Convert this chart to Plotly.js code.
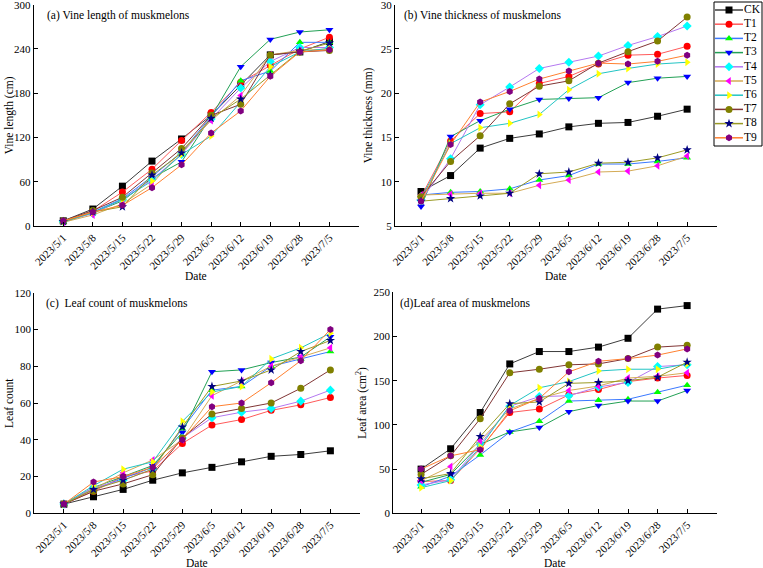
<!DOCTYPE html>
<html>
<head>
<meta charset="utf-8">
<script src="https://cdn.plot.ly/plotly-3.0.1.min.js"></script>
<style>html,body{margin:0;padding:0;background:#fff;}</style>
</head>
<body>
<div id="chart" style="width:763px;height:568px;"></div>
<script>
// Sampling dates (x categories)
const dates = ['2023/5/1','2023/5/8','2023/5/15','2023/5/22','2023/5/29','2023/6/5','2023/6/12','2023/6/19','2023/6/28','2023/7/5'];

// Treatments
const seriesNames = ['CK','T1','T2','T3','T4','T5','T6','T7','T8','T9'];
const lineColors   = ['#3c3c3c','#ff5a5a','#3a78ff','#22a055','#b478f0','#d4aa55','#22c4c4','#803535','#9a9a25','#ff8030'];
const markerColors = ['#000000','#ff0000','#00ff00','#0000ff','#00ffff','#ff00ff','#ffff00','#808000','#000080','#800080'];
const markerSymbols = ['square','circle','triangle-up','triangle-down','diamond','triangle-left','triangle-right','circle','star','hexagon'];
const markerSizes = [7,7,7,7,7,7,7,7,7,7];

// (a) Vine length, cm
const vineLength = [
  [7, 23, 54, 88, 118, 150, 191, 232, 236, 250],
  [6, 20, 46, 77, 116, 154, 195, 218, 240, 256],
  [6, 19, 37, 67, 100, 148, 197, 210, 249, 249],
  [5, 18, 34, 65, 87, 148, 216, 253, 263, 266],
  [6, 17, 36, 63, 97, 145, 187, 223, 242, 242],
  [5, 15, 30, 57, 102, 143, 177, 232, 238, 240],
  [6, 18, 36, 61, 97, 122, 168, 216, 236, 241],
  [7, 21, 39, 72, 105, 150, 165, 232, 236, 238],
  [6, 19, 26, 69, 99, 146, 172, 205, 237, 248],
  [7, 19, 28, 52, 83, 126, 156, 203, 236, 239]
];

// (b) Vine thickness, mm
const vineThickness = [
  [8.9, 10.7, 13.8, 14.9, 15.4, 16.2, 16.6, 16.7, 17.4, 18.2],
  [8.3, 14.6, 17.7, 17.9, 21.1, 21.9, 23.3, 24.3, 24.4, 25.3],
  [8.5, 8.8, 8.9, 9.2, 10.2, 10.7, 12.0, 12.0, 12.3, 12.7],
  [7.2, 15.1, 16.9, 18.2, 19.3, 19.4, 19.5, 21.2, 21.7, 21.9],
  [7.9, 12.6, 18.7, 20.7, 22.8, 23.5, 24.2, 25.4, 26.4, 27.6],
  [8.5, 8.6, 8.7, 8.7, 9.6, 10.2, 11.1, 11.2, 11.8, 12.9],
  [8.1, 14.3, 16.1, 16.6, 17.6, 20.4, 22.2, 22.8, 23.3, 23.5],
  [8.3, 12.3, 15.2, 18.8, 20.8, 21.4, 23.4, 24.7, 25.9, 28.6],
  [7.8, 8.1, 8.4, 8.7, 10.9, 11.1, 12.1, 12.2, 12.7, 13.6],
  [7.8, 14.2, 19.0, 20.2, 21.6, 22.5, 23.4, 23.3, 23.6, 24.3]
];

// (c) Leaf count
const leafCount = [
  [5, 9, 13, 18, 22, 25, 28, 31, 32, 34],
  [5, 12, 20, 23, 38, 48, 51, 56, 59, 63],
  [5, 13, 19, 25, 46, 67, 69, 80, 84, 88],
  [5, 14, 20, 26, 44, 77, 78, 82, 85, 96],
  [5, 14, 18, 24, 41, 52, 55, 57, 61, 67],
  [5, 13, 22, 29, 40, 64, 72, 80, 85, 90],
  [5, 15, 24, 28, 50, 66, 69, 84, 90, 98],
  [5, 12, 16, 21, 41, 54, 57, 60, 68, 78],
  [5, 13, 18, 24, 47, 69, 72, 78, 88, 94],
  [5, 17, 20, 25, 40, 58, 60, 71, 83, 100]
];

// (d) Leaf area, cm2
const leafArea = [
  [50, 73, 114, 169, 183, 183, 188, 198, 231, 235],
  [36, 37, 73, 114, 118, 134, 140, 149, 153, 156],
  [30, 42, 66, 92, 104, 127, 128, 129, 137, 145],
  [35, 44, 78, 92, 97, 115, 122, 127, 127, 139],
  [32, 38, 78, 121, 132, 133, 143, 148, 166, 168],
  [37, 53, 82, 118, 130, 139, 144, 153, 155, 159],
  [29, 37, 75, 122, 142, 149, 161, 163, 163, 169],
  [44, 65, 107, 159, 163, 168, 169, 175, 188, 190],
  [39, 45, 87, 124, 126, 147, 148, 150, 154, 171],
  [50, 65, 72, 116, 130, 160, 172, 175, 179, 186]
];

const W = 763, H = 568;
const FONT = 'Liberation Serif, Times New Roman, serif';

// Panel frames in pixels
const panels = [
  {values: vineLength,    box: [33.7, 359, 4.7, 226],    xr: [-1, 10],    yr: [0, 300], dtick: 60,
   title: '(a) Vine length of muskmelons', ytitle: 'Vine length (cm)', ytx: 9, ttx: 45, tty: 15.5, dy: 276.5},
  {values: vineThickness, box: [395, 716.7, 4.7, 226],   xr: [-0.88, 10], yr: [5, 30], dtick: 5,
   title: '(b) Vine thickness of muskmelons', ytitle: 'Vine thickness (mm)', ytx: 368, ttx: 401.5, tty: 16, dy: 276.5},
  {values: leafCount,     box: [34.3, 360, 292.7, 513.3], xr: [-1, 10],   yr: [0, 120], dtick: 20,
   title: '(c)\u00a0 Leaf count of muskmelons', ytitle: 'Leaf count', ytx: 9, ttx: 44.3, tty: 303, dy: 563},
  {values: leafArea,      box: [393.3, 716.7, 292.3, 513.3], xr: [-0.94, 10], yr: [0, 250], dtick: 50,
   title: '(d)Leaf area of muskmelons', ytitle: 'Leaf area (cm<sup>2</sup>)', ytx: 362, ttx: 398.3, tty: 303, dy: 563}
];

const traces = [];
const layout = {
  width: W, height: H,
  margin: {l: 0, r: 0, t: 0, b: 0},
  paper_bgcolor: '#ffffff', plot_bgcolor: '#ffffff',
  showlegend: false,
  font: {family: FONT, size: 11, color: '#000'},
  annotations: [], shapes: []
};

const xIdx = dates.map((d, i) => i);

panels.forEach((p, k) => {
  const n = k + 1;
  const xa = 'xaxis' + (n === 1 ? '' : n), ya = 'yaxis' + (n === 1 ? '' : n);
  const xr = 'x' + (n === 1 ? '' : n), yr = 'y' + (n === 1 ? '' : n);
  const [x0, x1, y0, y1] = p.box;
  const span = p.yr[1] - p.yr[0];
  layout[xa] = {
    domain: [x0 / W, x1 / W], range: p.xr, anchor: yr,
    tickmode: 'array', tickvals: xIdx, ticktext: dates, tickangle: -45,
    ticks: 'inside', ticklen: 4, tickcolor: '#000', tickwidth: 1,
    showline: true, linecolor: '#000', linewidth: 1, mirror: false,
    showgrid: false, zeroline: false, fixedrange: true, ticklabeloverflow: 'allow',
    tickfont: {family: FONT, size: 11, color: '#000'}
  };
  layout[ya] = {
    domain: [1 - y1 / H, 1 - y0 / H], range: [p.yr[0], p.yr[1] + span * 0.0001], anchor: xr,
    tickmode: 'linear', dtick: p.dtick, tick0: p.yr[0],
    ticks: 'inside', ticklen: 4, tickcolor: '#000', tickwidth: 1,
    showline: true, linecolor: '#000', linewidth: 1,
    showgrid: false, zeroline: false, fixedrange: true, ticklabeloverflow: 'allow',
    tickfont: {family: FONT, size: 11, color: '#000'}
  };
  seriesNames.forEach((name, s) => {
    traces.push({
      type: 'scatter', mode: 'lines+markers', name: name,
      x: xIdx, y: p.values[s], xaxis: xr, yaxis: yr,
      line: {color: lineColors[s], width: 1},
      marker: {symbol: markerSymbols[s], color: markerColors[s], size: markerSizes[s], line: {width: 0}},
      cliponaxis: false
    });
  });
  layout.annotations.push({
    xref: 'paper', yref: 'paper', x: p.ttx / W, y: 1 - p.tty / H,
    xanchor: 'left', yanchor: 'middle', showarrow: false,
    text: p.title, font: {family: FONT, size: 11.5, color: '#000'}
  });
  layout.annotations.push({
    xref: 'paper', yref: 'paper', x: p.ytx / W, y: 1 - (y0 + y1) / 2 / H,
    xanchor: 'center', yanchor: 'middle', textangle: -90, showarrow: false,
    text: p.ytitle, font: {family: FONT, size: 11.5, color: '#000'}
  });
  layout.annotations.push({
    xref: 'paper', yref: 'paper', x: (x0 + x1) / 2 / W, y: 1 - p.dy / H,
    xanchor: 'center', yanchor: 'middle', showarrow: false,
    text: 'Date', font: {family: FONT, size: 11.5, color: '#000'}
  });
});

// Legend drawn on its own small axis pair: one row per treatment
const LG = {x0: 714, x1: 762, y0: 2, y1: 146, first: 8, step: 14.2};
layout.xaxis5 = {domain: [LG.x0 / W, LG.x1 / W], range: [0, LG.x1 - LG.x0], visible: false, fixedrange: true, anchor: 'y5'};
layout.yaxis5 = {domain: [1 - LG.y1 / H, 1 - LG.y0 / H],
  range: [(LG.y1 - LG.y0 - LG.first) / LG.step, -LG.first / LG.step], visible: false, fixedrange: true, anchor: 'x5'};
seriesNames.forEach((name, s) => {
  traces.push({type: 'scatter', mode: 'lines', x: [1, 29], y: [s, s], xaxis: 'x5', yaxis: 'y5',
    line: {color: lineColors[s], width: 1.5}, hoverinfo: 'skip'});
  traces.push({type: 'scatter', mode: 'markers', x: [15], y: [s], xaxis: 'x5', yaxis: 'y5',
    marker: {symbol: markerSymbols[s], color: markerColors[s], size: markerSizes[s], line: {width: 0}}, hoverinfo: 'skip'});
});
traces.push({type: 'scatter', mode: 'text', x: seriesNames.map(() => 30), y: seriesNames.map((n, i) => i),
  text: seriesNames, textposition: 'middle right', xaxis: 'x5', yaxis: 'y5',
  textfont: {family: FONT, size: 11.5, color: '#000'}, hoverinfo: 'skip', cliponaxis: false});
layout.shapes.push({type: 'rect', xref: 'paper', yref: 'paper',
  x0: LG.x0 / W, x1: LG.x1 / W, y0: 1 - LG.y1 / H, y1: 1 - LG.y0 / H,
  line: {color: '#000', width: 1}, fillcolor: 'rgba(0,0,0,0)'});

Plotly.newPlot('chart', traces, layout, {staticPlot: true, displayModeBar: false});
</script>
</body>
</html>
